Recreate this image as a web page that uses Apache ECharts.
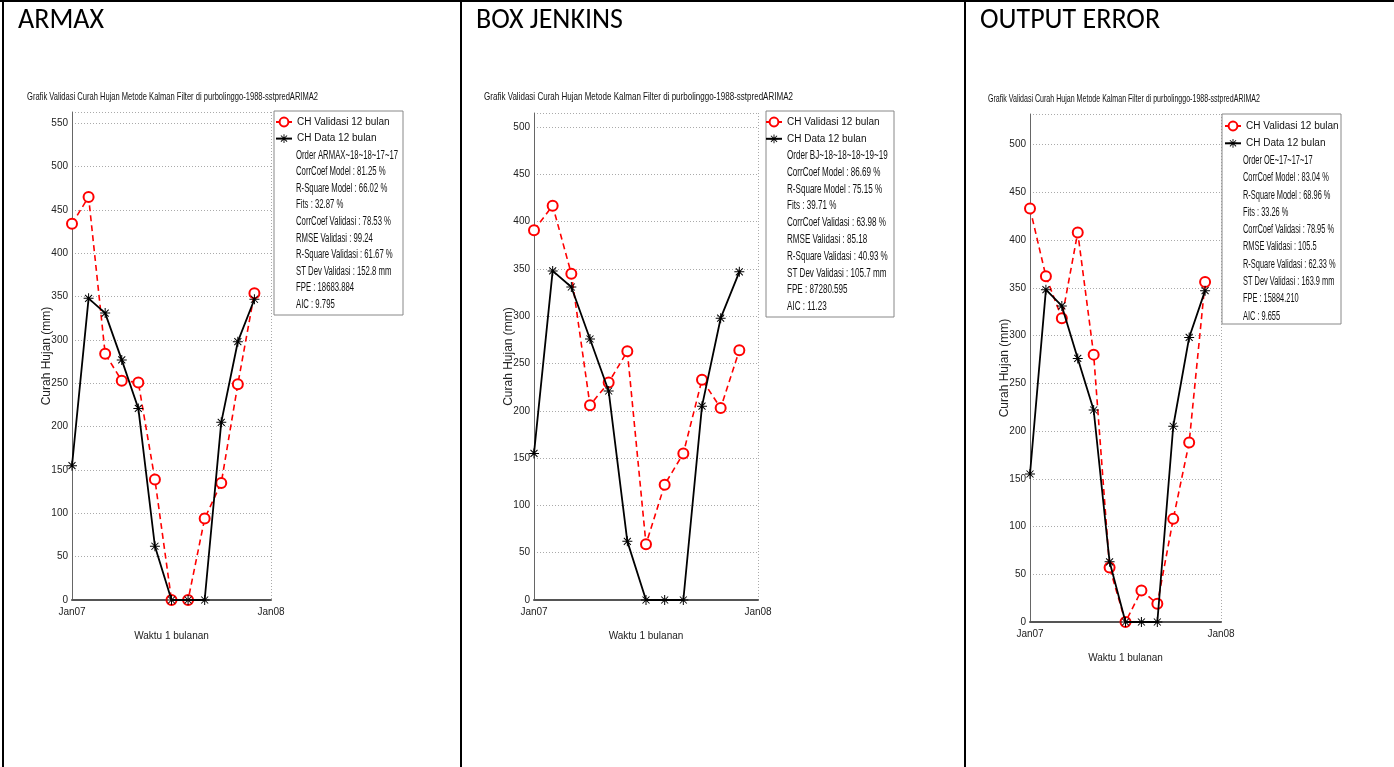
<!DOCTYPE html>
<html><head><meta charset="utf-8">
<script src="https://cdn.jsdelivr.net/npm/echarts@6/dist/echarts.min.js"></script>
<style>html,body{margin:0;padding:0;background:#fff}#c{width:1394px;height:767px}</style>
</head><body><div id="c"></div>
<script>
// ---------- data ----------
const months = [0,1,2,3,4,5,6,7,8,9,10,11];
const xTickLabels = {0:'Jan07', 12:'Jan08'};
const panelNames = ['ARMAX','BOX JENKINS','OUTPUT ERROR'];
const chartTitle = 'Grafik Validasi Curah Hujan Metode Kalman Filter di purbolinggo-1988-sstpredARIMA2';
const seriesNames = ['CH Validasi 12 bulan','CH Data 12 bulan'];
const xAxisName = 'Waktu 1 bulanan';
const yAxisName = 'Curah Hujan (mm)';

const armaxData     = [155,348,331,277,221,62,0,0,0,205,298,347];
const armaxValidasi = [434,465,284,253,251,139,0,0,94,135,249,354];
const bjData        = [155,348,331,276,221,62,0,0,0,205,298,347];
const bjValidasi    = [391,417,345,206,230,263,59,122,155,233,203,264];
const oeData        = [155,348,331,276,222,63,0,0,0,205,298,347];
const oeValidasi    = [433,362,318,408,280,57,0,33,19,108,188,356];

const yMaxes = [563,515,532];
const yTickStep = 50;

const armaxStats = ['Order ARMAX~18~18~17~17','CorrCoef Model : 81.25 %','R-Square Model : 66.02 %','Fits : 32.87 %','CorrCoef Validasi : 78.53 %','RMSE Validasi : 99.24','R-Square Validasi : 61.67 %','ST Dev Validasi : 152.8 mm','FPE : 18683.884','AIC : 9.795'];
const bjStats = ['Order BJ~18~18~18~19~19','CorrCoef Model : 86.69 %','R-Square Model : 75.15 %','Fits : 39.71 %','CorrCoef Validasi : 63.98 %','RMSE Validasi : 85.18','R-Square Validasi : 40.93 %','ST Dev Validasi : 105.7 mm','FPE : 87280.595','AIC : 11.23'];
const oeStats = ['Order OE~17~17~17','CorrCoef Model : 83.04 %','R-Square Model : 68.96 %','Fits : 33.26 %','CorrCoef Validasi : 78.95 %','RMSE Validasi : 105.5','R-Square Validasi : 62.33 %','ST Dev Validasi : 163.9 mm','FPE : 15884.210','AIC : 9.655'];

// ---------- layout ----------
const SANS = "'Liberation Sans',Arial,sans-serif";
const panels = [
  {name:panelNames[0], data:armaxData, val:armaxValidasi, stats:armaxStats, yMax:yMaxes[0],
   grid:{left:72, top:112, width:199, height:488}, titleX:27, titleY:97, titleW:291, nameX:18,
   box:{x:274,y:111,w:129,h:204}, legX:275, txtX:296, row0:122, pitch:16.6, statW:95},
  {name:panelNames[1], data:bjData, val:bjValidasi, stats:bjStats, yMax:yMaxes[1],
   grid:{left:534, top:113, width:224, height:487}, titleX:484, titleY:97, titleW:309, nameX:476,
   box:{x:766,y:111,w:128,h:206}, legX:765, txtX:787, row0:122, pitch:16.8, statW:99},
  {name:panelNames[2], data:oeData, val:oeValidasi, stats:oeStats, yMax:yMaxes[2],
   grid:{left:1030, top:114, width:191, height:508}, titleX:988, titleY:99, titleW:272, nameX:980,
   box:{x:1222,y:114,w:119,h:210}, legX:1224, txtX:1243, row0:126, pitch:17.3, statW:91}
];

const mctx = document.createElement('canvas').getContext('2d');
function textW(t, font){ mctx.font = font; return mctx.measureText(t).width; }

const asterisk = 'path://M9,0L11,0L11,20L9,20Z M0,9L20,9L20,11L0,11Z M2.3,3.7L3.7,2.3L17.7,16.3L16.3,17.7Z M16.3,2.3L17.7,3.7L3.7,17.7L2.3,16.3Z';

const grids=[], xAxes=[], yAxes=[], series=[], legends=[], graphics=[];

// table borders
graphics.push({type:'line', shape:{x1:0,y1:1,x2:1394,y2:1}, style:{stroke:'#000', lineWidth:2}});
graphics.push({type:'line', shape:{x1:3,y1:0,x2:3,y2:767}, style:{stroke:'#000', lineWidth:2}});
graphics.push({type:'line', shape:{x1:461,y1:0,x2:461,y2:767}, style:{stroke:'#000', lineWidth:2}});
graphics.push({type:'line', shape:{x1:965,y1:0,x2:965,y2:767}, style:{stroke:'#000', lineWidth:2}});

const TITLE_FONT = "11px " + SANS;
const STAT_FONT = "12px " + SANS;
const PANEL_FONT = "28px Carlito, Lato, sans-serif";

panels.forEach((p,i)=>{
  grids.push(Object.assign({containLabel:false}, p.grid));
  xAxes.push({type:'value', gridIndex:i, min:0, max:12, interval:12,
    name:xAxisName, nameLocation:'middle', nameGap:31, nameMoveOverlap:false,
    nameTextStyle:{fontFamily:SANS, fontSize:10, color:'#222'},
    axisLine:{show:true, onZero:false, lineStyle:{color:'#555', width:2}},
    axisTick:{show:false},
    axisLabel:{fontFamily:SANS, fontSize:10, color:'#222', margin:7,
      formatter:v=>xTickLabels[v]||''},
    splitLine:{show:true, lineStyle:{color:'#aaa', type:[1,2], width:1}}});
  yAxes.push({type:'value', gridIndex:i, min:0, max:p.yMax, interval:yTickStep,
    name:yAxisName, nameLocation:'middle', nameGap:19, nameRotate:90, nameMoveOverlap:false,
    nameTextStyle:{fontFamily:SANS, fontSize:12, color:'#222'},
    axisLine:{show:true, lineStyle:{color:'#666', width:1}},
    axisTick:{show:false},
    axisLabel:{fontFamily:SANS, fontSize:10, color:'#222', margin:4, showMaxLabel:false},
    splitLine:{show:true, lineStyle:{color:'#aaa', type:[1,2], width:1}}});
  series.push({type:'line', name:seriesNames[0], xAxisIndex:i, yAxisIndex:i,
    data:months.map((m,k)=>[m,p.val[k]]),
    symbol:'emptyCircle', symbolSize:10,
    itemStyle:{color:'#ff0000', borderColor:'#ff0000', borderWidth:1.6},
    lineStyle:{color:'#ff0000', width:1.6, type:[6,4]}, z:3});
  series.push({type:'line', name:seriesNames[1], xAxisIndex:i, yAxisIndex:i,
    data:months.map((m,k)=>[m,p.data[k]]),
    symbol:asterisk, symbolSize:10,
    itemStyle:{color:'#000'},
    lineStyle:{color:'#000', width:1.8, type:'solid'}, z:4});
  legends.push({orient:'vertical', left:p.legX, top:p.row0-6, padding:0, data:seriesNames,
    itemWidth:16, itemHeight:11, itemGap:p.pitch-12, selectedMode:false,
    textStyle:{fontFamily:SANS, fontSize:10, color:'#111', lineHeight:12}, z:6});
  // chart title (squeezed to match the reference's narrow lettering)
  const tS = p.titleW / textW(chartTitle, TITLE_FONT);
  graphics.push({type:'text', x:p.titleX, y:p.titleY, scaleX:tS,
    style:{text:chartTitle, font:TITLE_FONT, fill:'#111', verticalAlign:'middle'}});
  // panel heading
  graphics.push({type:'text', x:p.nameX, y:21, style:{text:p.name, font:PANEL_FONT, fill:'#000', verticalAlign:'middle'}});
  // legend box
  graphics.push({type:'rect', shape:{x:p.box.x, y:p.box.y, width:p.box.w, height:p.box.h},
    style:{fill:'#fff', stroke:'#888', lineWidth:1}, z:5});
  const sS = p.statW / textW(p.stats[4], STAT_FONT);
  p.stats.forEach((s,k)=>{
    graphics.push({type:'text', x:p.txtX, y:p.row0+(k+2)*p.pitch, scaleX:sS,
      style:{text:s, font:STAT_FONT, fill:'#111', verticalAlign:'middle'}, z:7});
  });
});

const chart = echarts.init(document.getElementById('c'), null, {renderer:'canvas'});
chart.setOption({animation:false, backgroundColor:'#fff', grid:grids,
  xAxis:xAxes, yAxis:yAxes, legend:legends, series:series, graphic:graphics});
</script></body></html>
